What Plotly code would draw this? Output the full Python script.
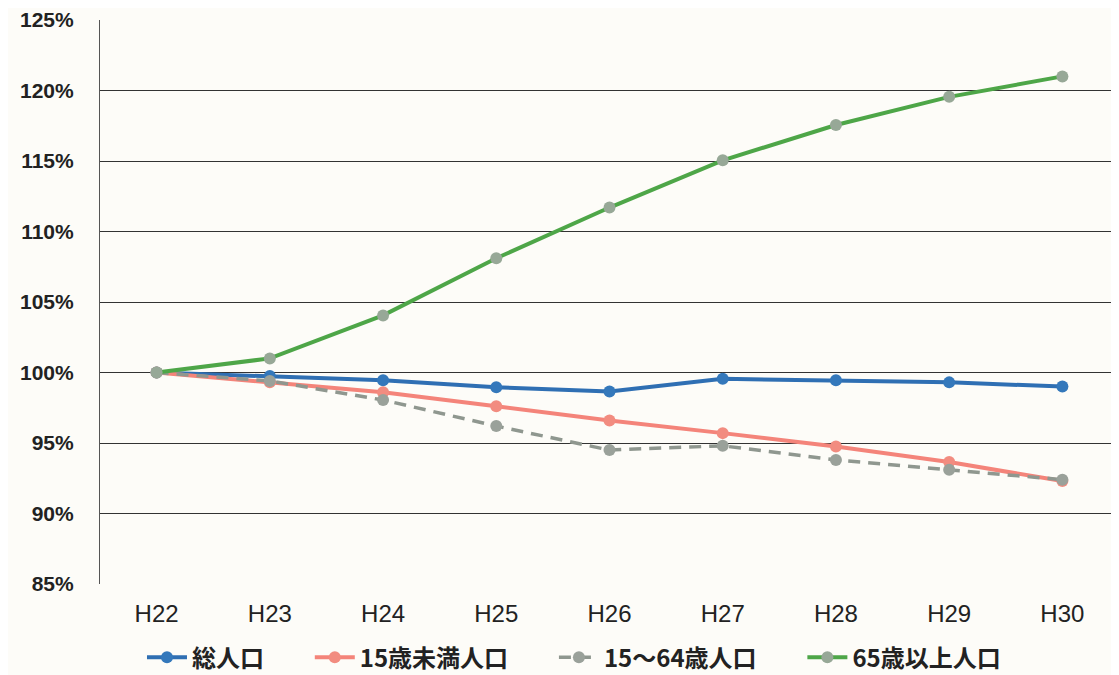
import plotly.graph_objects as go

categories = ["H22", "H23", "H24", "H25", "H26", "H27", "H28", "H29", "H30"]
total_pop = [100.0, 99.75, 99.45, 98.95, 98.65, 99.55, 99.45, 99.3, 99.0]
under15 = [100.0, 99.3, 98.6, 97.6, 96.6, 95.7, 94.75, 93.65, 92.3]
age15_64 = [100.0, 99.4, 98.05, 96.2, 94.5, 94.8, 93.8, 93.1, 92.4]
over65 = [100.0, 101.0, 104.05, 108.1, 111.7, 115.05, 117.55, 119.55, 121.0]
y_ticks = [85, 90, 95, 100, 105, 110, 115, 120, 125]
y_tick_labels = [f"{v}%" for v in y_ticks]

names = ["総人口", "15歳未満人口", "15〜64歳人口", "65歳以上人口"]
GAP = "\u2003\u2002\u2009"  # spacing between legend entries

fig = go.Figure()
fig.add_trace(go.Scatter(x=categories, y=total_pop, name=names[0] + GAP, mode="lines+markers",
                         line=dict(color="#2f6fb3", width=4),
                         marker=dict(size=12, color="#3478bb")))
fig.add_trace(go.Scatter(x=categories, y=under15, name=names[1] + GAP, mode="lines+markers",
                         line=dict(color="#f4847a", width=4),
                         marker=dict(size=12, color="#f28c80")))
fig.add_trace(go.Scatter(x=categories, y=age15_64, name=names[2] + GAP, mode="lines+markers",
                         line=dict(color="#8f978f", width=3.5, dash="12px,8px"),
                         marker=dict(size=12, color="#9aa19a")))
fig.add_trace(go.Scatter(x=categories, y=over65, name=names[3], mode="lines+markers",
                         line=dict(color="#4ea648", width=4),
                         marker=dict(size=12, color="#97a897")))

fig.update_layout(
    width=1111, height=667,
    margin=dict(l=92, r=0, t=12, b=91),
    paper_bgcolor="#fdfcf8",
    plot_bgcolor="#fdfcf8",
    showlegend=True,
    legend=dict(orientation="h", xref="container", x=0.1206, xanchor="left",
                yref="container", y=0.026, yanchor="middle",
                font=dict(family="Noto Sans CJK JP", size=24, color="#222", weight="bold"),
                itemwidth=40, tracegroupgap=0, bgcolor="rgba(0,0,0,0)"),
    xaxis=dict(
        type="category", range=[-0.5, 8.5],
        showgrid=False, showline=False, zeroline=False, ticks="",
        tickfont=dict(family="Liberation Sans, Arial", size=24, color="#222"),
        ticklabelstandoff=13,
    ),
    yaxis=dict(
        range=[85, 125], tickvals=y_ticks, ticktext=y_tick_labels,
        showgrid=True, gridcolor="#333333", gridwidth=1.2,
        showline=True, linecolor="#555555", linewidth=1.2,
        zeroline=False, ticks="",
        tickfont=dict(family="Liberation Sans, Arial", size=21, color="#222", weight="bold"),
        ticklabelstandoff=21,
    ),
)

fig.write_html("out.html")
